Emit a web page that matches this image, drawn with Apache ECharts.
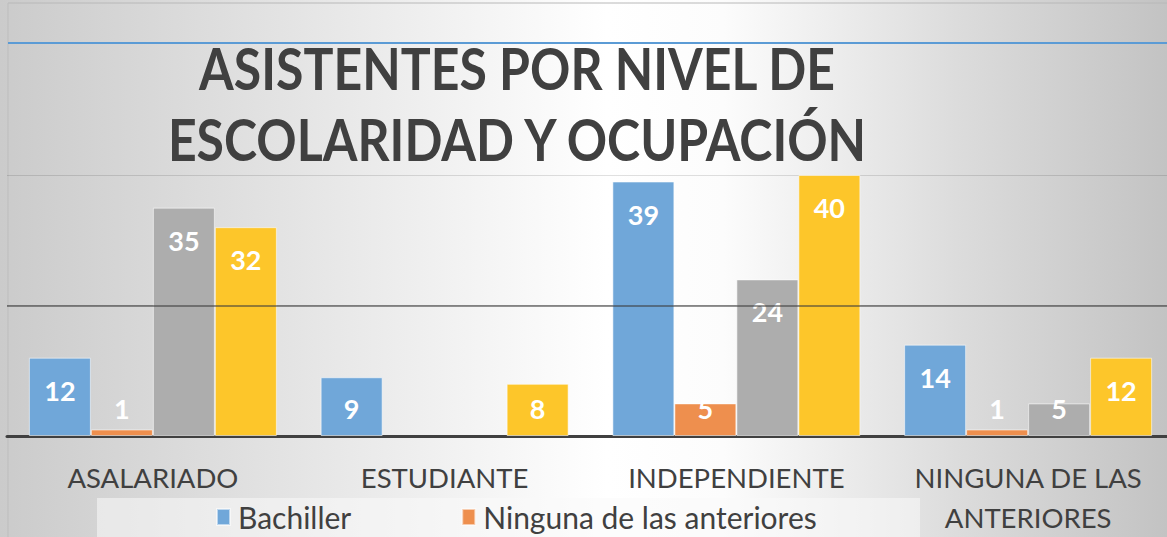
<!DOCTYPE html>
<html>
<head>
<meta charset="utf-8">
<script src="https://cdn.jsdelivr.net/npm/echarts@6/dist/echarts.min.js"></script>
<style>
  html, body { margin: 0; padding: 0; }
  #chart { width: 1167px; height: 537px; }
</style>
</head>
<body>
<div id="chart"></div>
<script>
(function () {

  var categories = ['ASALARIADO', 'ESTUDIANTE', 'INDEPENDIENTE', 'NINGUNA DE LAS\nANTERIORES'];
  var bachiller = [12, 9, 39, 14];
  var ninguna = [1, null, 5, 1];
  var tecnico = [35, null, 24, 5];
  var profesional = [32, 8, 40, 12];
  var yTicks = [0, 20, 40];

  var TEXT = '#404040';
  var FONT = 'Lato';

  // excel keeps the label above the axis when the bar is short
  function _items(arr){
    return arr.map(function(v){
      if(v == null) return null;
      if(v < 10){
        return {value: v, label: {position: 'insideBottom', distance: 14}};
      }
      return {value: v, label: {position: 'insideTop', distance: 19}};
    });
  }

  function _bar(name, color, arr, extra){
    var s = {
      name: name,
      type: 'bar',
      barGap: '0%',
      barCategoryGap: '15%',
      itemStyle: { color: color, borderColor: 'rgba(255,255,255,0.55)', borderWidth: 1 },
      label: {
        show: true,
        color: '#ffffff',
        fontFamily: FONT,
        fontWeight: 'bold',
        fontSize: 27
      },
      data: _items(arr)
    };
    return Object.assign(s, extra || {});
  }

  var chart = echarts.init(document.getElementById('chart'), null, {renderer: 'svg'});

  var opt = {
    animation: false,
    graphic: [{
      type: 'rect', z: -10, silent: true,
      shape: { x: 0, y: 0, width: 1167, height: 537 },
      style: {
        fill: new echarts.graphic.LinearGradient(0, 0, 1, 0, [
          {offset: 0, color: '#cbcbcb'},
          {offset: 0.3, color: '#e9e9e9'},
          {offset: 0.52, color: '#ffffff'},
          {offset: 0.62, color: '#fcfcfc'},
          {offset: 0.82, color: '#dcdcdc'},
          {offset: 1, color: '#c3c3c3'}
        ])
      }
    },{
      type: 'rect', z: -9, silent: true,
      shape: { x: 97, y: 498, width: 823, height: 40 },
      style: { fill: 'rgba(250,250,250,0.55)' }
    },{
      type: 'line', z: -8, silent: true,
      shape: { x1: 8, y1: 3, x2: 1167, y2: 3 },
      style: { stroke: '#b8b8b8', lineWidth: 1 }
    },{
      type: 'line', z: -8, silent: true,
      shape: { x1: 8, y1: 3, x2: 8, y2: 537 },
      style: { stroke: '#bdbdbd', lineWidth: 1 }
    },{
      type: 'line', z: -8, silent: true,
      shape: { x1: 8, y1: 43, x2: 1167, y2: 43 },
      style: { stroke: '#5b9bd5', lineWidth: 2 }
    },{
      type: 'text', silent: true,
      x: 517, y: 68,
      scaleY: 1.15,
      style: {
        text: 'ASISTENTES POR NIVEL DE',
        fill: TEXT, font: 'bold 50px ' + FONT,
        align: 'center', verticalAlign: 'middle'
      }
    },{
      type: 'text', silent: true,
      x: 517, y: 139,
      scaleY: 1.15,
      style: {
        text: 'ESCOLARIDAD Y OCUPACIÓN',
        fill: TEXT, font: 'bold 50px ' + FONT,
        align: 'center', verticalAlign: 'middle'
      }
    }],
    legend: {
      data: ['Bachiller', 'Ninguna de las anteriores'],
      left: 211,
      top: 497,
      icon: 'rect',
      itemWidth: 13,
      itemHeight: 16,
      itemGap: 110,
      textStyle: { color: TEXT, fontFamily: FONT, fontSize: 30, padding: [0, 0, 0, 3] }
    },
    grid: { left: 7, width: 1167, top: 175, bottom: 101, containLabel: false, outerBoundsMode: 'none' },
    xAxis: {
      type: 'category',
      data: categories,
      axisTick: { show: false },
      axisLine: { lineStyle: { color: '#404040', width: 3 } },
      axisLabel: {
        color: TEXT, fontFamily: FONT, fontSize: 27.5,
        margin: 21, lineHeight: 40, interval: 0
      }
    },
    yAxis: {
      type: 'value',
      min: yTicks[0],
      max: yTicks[yTicks.length - 1],
      interval: yTicks[1] - yTicks[0],
      axisLabel: { show: false },
      axisLine: { show: false },
      axisTick: { show: false },
      splitLine: { lineStyle: { color: 'rgba(0,0,0,0.12)', width: 1 } }
    },
    series: [
      _bar('Bachiller', '#70a7d9', bachiller),
      _bar('Ninguna de las anteriores', '#ee8f4e', ninguna),
      _bar('Técnico', '#adadad', tecnico),
      _bar('Profesional', '#fdc62a', profesional, {
        markLine: {
          silent: true,
          symbol: 'none',
          label: { show: false },
          lineStyle: { color: 'rgba(60,60,60,0.55)', width: 2, type: 'solid' },
          data: [{ yAxis: yTicks[1] }]
        }
      })
    ]
  };

  chart.setOption(opt);
})();
</script>
</body>
</html>
